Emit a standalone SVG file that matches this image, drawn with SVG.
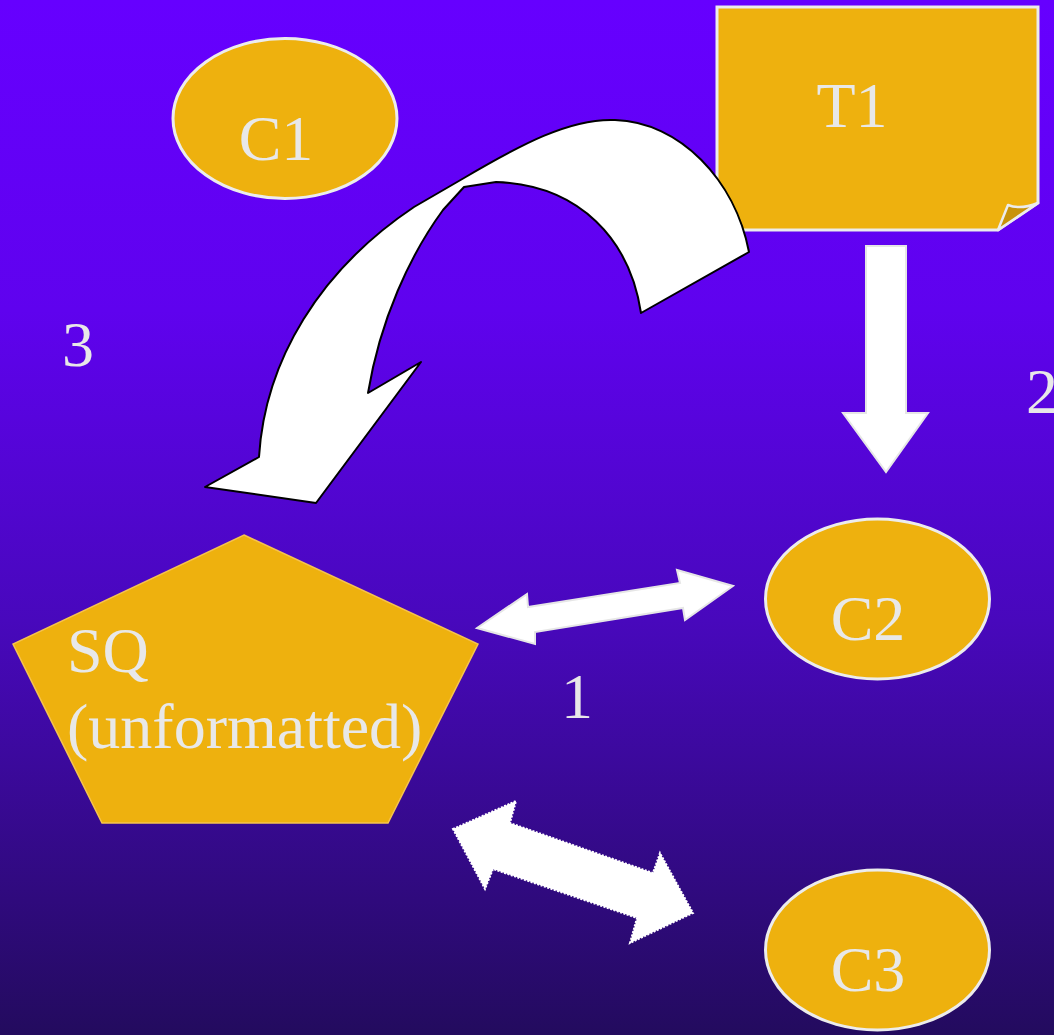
<svg xmlns="http://www.w3.org/2000/svg" width="1054" height="1035" viewBox="0 0 1054 1035">
<defs>
<linearGradient id="bg" x1="0" y1="0" x2="0" y2="1">
<stop offset="0" stop-color="#6600ff"/>
<stop offset="0.3" stop-color="#5f02ee"/>
<stop offset="0.6" stop-color="#4808bc"/>
<stop offset="1" stop-color="#230b5e"/>
</linearGradient>
</defs>
<style>
.node{fill:#eeb10e;stroke:#ececec;stroke-width:3}
.lbl{font-family:"Liberation Serif","Times New Roman",serif;font-size:64px;fill:#e8e8e8}
.arrow{fill:#ffffff;stroke:#e6e6e6;stroke-width:2}
</style>
<rect x="0" y="0" width="1054" height="1035" fill="url(#bg)"/>
<g id="T1">
<path class="node" d="M717,7 L1038,7 L1038,203 L998,230 L717,230 Z"/>
<path d="M998,230 L1008,205 Q1020,210 1038,203 Z" fill="#c8930a" stroke="#ececec" stroke-width="2.5" stroke-linejoin="round"/>
<text class="lbl" x="852" y="127" text-anchor="middle">T1</text>
</g>
<g id="C1">
<ellipse class="node" cx="285" cy="118.5" rx="112" ry="80"/>
<text class="lbl" x="276" y="160" text-anchor="middle">C1</text>
</g>
<g id="C2">
<ellipse class="node" cx="877.5" cy="599" rx="112" ry="80"/>
<text class="lbl" x="868" y="640" text-anchor="middle">C2</text>
</g>
<g id="C3">
<ellipse class="node" cx="877.5" cy="950" rx="112" ry="80"/>
<text class="lbl" x="868" y="991" text-anchor="middle">C3</text>
</g>
<g id="SQ">
<polygon points="244,535 478,644 388,823 102,823 13,644" fill="#eeb10e" stroke="#f6c34e" stroke-width="1.5"/>
<text class="lbl" x="67" y="672">SQ</text>
<text class="lbl" x="67" y="748">(unformatted)</text>
</g>
<g id="connectors">
<path d="M205,487 L259,457 C265,360 320,270 414,207 L464,178 C520,145 570,118 615,120 C680,122 735,180 749,252 L641,313 C630,240 580,185 496,182 L464,187 L443,210 C410,255 380,320 368,393 L421,362 L316,503 Z" fill="#ffffff" stroke="#000000" stroke-width="2" stroke-linejoin="round"/>
<polygon class="arrow" points="866,246 906,246 906,413 928,413 886,472 843,413 866,413"/>
<polygon class="arrow" points="477,628 527,594 528,607 680,583 677,570 733,586 685,620 683,608 535,632 535,644"/>
<polygon points="453,829 516,801 510,823 653,873 660,853 693,913 630,943 637,918 493,869 485,889" fill="#ffffff" stroke="#ffffff" stroke-width="2" stroke-dasharray="2 1.5"/>
</g>
<text class="lbl" x="78" y="366" text-anchor="middle">3</text>
<text class="lbl" x="1042" y="413" text-anchor="middle">2</text>
<text class="lbl" x="577" y="718" text-anchor="middle">1</text>
</svg>
